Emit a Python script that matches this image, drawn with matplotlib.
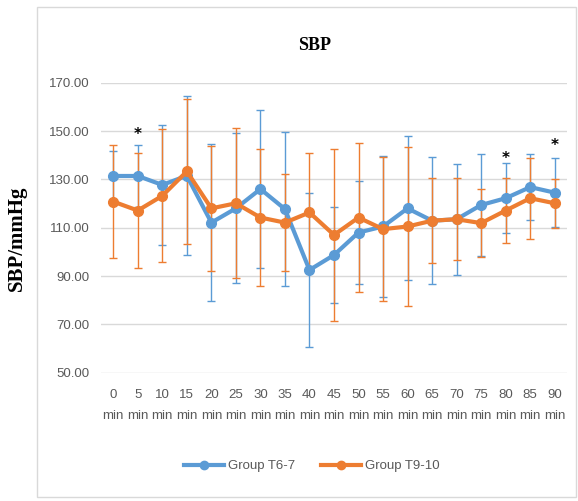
import numpy as np
import matplotlib.pyplot as plt
from matplotlib.lines import Line2D
from matplotlib.patches import Rectangle

# time points (min)
times = [0, 5, 10, 15, 20, 25, 30, 35, 40, 45, 50, 55, 60, 65, 70, 75, 80, 85, 90]
tick_labels = [f"{t}\nmin" for t in times]

# Group T6-7 (mean, sd)
sbp_t67 = [131.4, 131.4, 127.7, 131.5, 112.1, 118.0, 126.0, 117.7, 92.5, 98.7,
           108.0, 110.5, 118.0, 112.9, 113.5, 119.4, 122.2, 126.8, 124.5]
sd_t67 = [10.2, 12.8, 25.0, 33.0, 32.5, 31.0, 32.8, 32.0, 31.7, 20.0,
          21.5, 29.0, 29.8, 26.3, 23.0, 21.3, 14.4, 13.8, 14.3]

# Group T9-10 (mean, sd)
sbp_t910 = [120.8, 117.1, 123.2, 133.3, 118.0, 120.1, 114.2, 112.1, 116.3, 107.0,
            114.2, 109.4, 110.5, 112.9, 113.5, 111.9, 117.1, 122.2, 120.1]
sd_t910 = [23.4, 23.8, 27.5, 30.0, 26.0, 31.0, 28.5, 20.0, 24.5, 35.5,
           31.0, 29.8, 32.8, 17.5, 17.0, 14.0, 13.5, 16.8, 10.2]

# significance marks
star_times = [5, 80, 90]
star_y = [148.5, 138.5, 144.0]

blue = '#5B9BD5'
orange = '#ED7D31'
W, H = 578, 501

fig = plt.figure(figsize=(W / 100, H / 100), dpi=100)
fig.patches.append(Rectangle((37 / W, 1 - 497 / H), 539 / W, 490 / H,
                             transform=fig.transFigure, fill=False,
                             edgecolor='#D9D9D9', linewidth=1))

ax = fig.add_axes([101 / W, 1 - 372.7 / H, 466 / W, 290 / H])
x = np.arange(len(times))

for y, sd, c in [(sbp_t67, sd_t67, blue), (sbp_t910, sd_t910, orange)]:
    ax.errorbar(x, y, yerr=sd, fmt='-o', color=c, lw=3, ms=7,
                ecolor=c, elinewidth=1, capsize=3, capthick=1)

for t, yy in zip(star_times, star_y):
    ax.text(times.index(t), yy, '*', ha='center', va='center', fontsize=11,
            fontweight='bold', color='black')

ax.set_xlim(-0.5, len(times) - 0.5)
ax.set_ylim(50, 170)
ax.set_yticks(np.arange(50, 171, 20))
ax.yaxis.set_major_formatter(plt.FormatStrFormatter('%.2f'))
ax.set_xticks(x)
ax.set_xticklabels(tick_labels, linespacing=2.0)
ax.grid(axis='y', color='#D9D9D9', lw=1)
ax.set_axisbelow(True)
for s in ax.spines.values():
    s.set_visible(False)
ax.tick_params(length=0, labelsize=9.5, labelcolor='#595959')
ax.tick_params(axis='x', pad=12)
ax.tick_params(axis='y', pad=8)
for lab in ax.get_xticklabels() + ax.get_yticklabels():
    lab.set_fontfamily('Liberation Sans')

fig.text(315 / W, 1 - 45 / H, 'SBP', ha='center', va='center',
         fontfamily='Liberation Serif', fontweight='bold', fontsize=13)
fig.text(17 / W, 1 - 238 / H, 'SBP/mmHg', ha='center', va='center', rotation=90,
         fontfamily='Liberation Serif', fontweight='bold', fontsize=15)

handles = [Line2D([], [], color=blue, lw=3, marker='o', ms=6),
           Line2D([], [], color=orange, lw=3, marker='o', ms=6)]
fig.legend(handles, ['Group T6-7', 'Group T9-10'], loc='center',
           bbox_to_anchor=(312 / W, 1 - 466 / H), ncol=2, frameon=False,
           handlelength=3, columnspacing=2, handletextpad=0.3,
           prop={'family': 'Liberation Sans', 'size': 9.5}, labelcolor='#595959')

fig.savefig('out.png', dpi=100)
